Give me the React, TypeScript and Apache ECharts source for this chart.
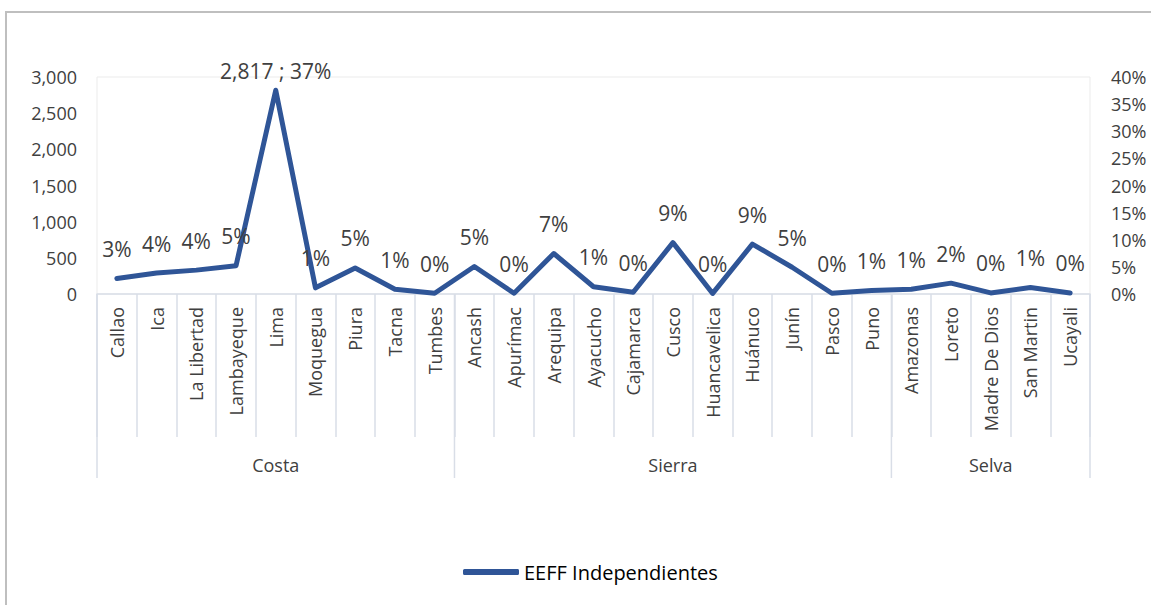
import { useEffect, useRef } from "react";
import * as echarts from "echarts";

const categories = [
  "Callao", "Ica", "La Libertad", "Lambayeque", "Lima", "Moquegua", "Piura", "Tacna", "Tumbes",
  "Ancash", "Apurímac", "Arequipa", "Ayacucho", "Cajamarca", "Cusco", "Huancavelica", "Huánuco", "Junín", "Pasco", "Puno",
  "Amazonas", "Loreto", "Madre De Dios", "San Martin", "Ucayali",
];
const values = [215, 290, 330, 390, 2817, 85, 360, 65, 10, 380, 10, 560, 100, 25, 710, 8, 690, 370, 10, 50, 65, 150, 15, 90, 15];
const shares = [3, 4, 4, 5, 37, 1, 5, 1, 0, 5, 0, 7, 1, 0, 9, 0, 9, 5, 0, 1, 1, 2, 0, 1, 0];
const groups = ["Costa", "Sierra", "Selva"];
const groupSizes = [9, 11, 5];
const seriesName = "EEFF Independientes";
const leftAxisMax = 3000;
const leftAxisStep = 500;
const rightAxisMax = 0.4;
const rightAxisStep = 0.05;

const FONT = "Open Sans";
const TEXT = "#404040";
const BLUE = "#2F5597";
const SEP = "#D9DEE7";

export default function App() {
  const ref = useRef<HTMLDivElement>(null);

  useEffect(() => {
    if (!ref.current) return;
    const chart = echarts.init(ref.current, undefined, { renderer: "svg" });
    const maxIdx = values.indexOf(Math.max(...values));
    const fmt = (v: number) => v.toLocaleString("en-US");

    chart.setOption({
      animation: false,
      backgroundColor: "#ffffff",
      textStyle: { fontFamily: FONT },
      grid: {
        left: 97, right: 61, top: 77, bottom: 311,
        show: true, borderColor: "#EBEBEB", borderWidth: 1,
      },
      legend: {
        left: 458, top: 557,
        icon: "roundRect",
        itemWidth: 56, itemHeight: 6,
        textStyle: { fontFamily: FONT, fontSize: 20, color: "#000000" },
        data: [seriesName],
      },
      xAxis: {
        type: "category",
        data: categories,
        boundaryGap: true,
        axisLine: { show: true, lineStyle: { color: SEP, width: 1.5 } },
        axisTick: { show: true, interval: 0, length: 143, lineStyle: { color: SEP, width: 1.5 } },
        axisLabel: { interval: 0, rotate: 90, margin: 13, fontSize: 18, color: TEXT, fontFamily: FONT },
        splitLine: { show: false },
      },
      yAxis: [
        {
          type: "value", min: 0, max: leftAxisMax, interval: leftAxisStep,
          axisLine: { show: false }, axisTick: { show: false }, splitLine: { show: false },
          axisLabel: { margin: 20, fontSize: 18, color: TEXT, fontFamily: FONT, formatter: (v: number) => fmt(v) },
        },
        {
          type: "value", min: 0, max: rightAxisMax, interval: rightAxisStep, position: "right",
          axisLine: { show: false }, axisTick: { show: false }, splitLine: { show: false },
          axisLabel: { margin: 21, fontSize: 18, color: TEXT, fontFamily: FONT, formatter: (v: number) => Math.round(v * 100) + "%" },
        },
      ],
      series: [
        {
          name: seriesName,
          type: "line",
          yAxisIndex: 0,
          symbol: "circle",
          symbolSize: 0,
          showSymbol: true,
          lineStyle: { color: BLUE, width: 5, cap: "round", join: "round" },
          itemStyle: { color: BLUE },
          data: values.map((v, i) => (i === maxIdx ? { value: v, label: { distance: 9 } } : v)),
          label: {
            show: true,
            position: "top",
            distance: 19,
            fontSize: 21,
            color: TEXT,
            fontFamily: FONT,
            formatter: (p: any) =>
              p.dataIndex === maxIdx ? `${fmt(values[p.dataIndex])} ; ${shares[p.dataIndex]}%` : `${shares[p.dataIndex]}%`,
          },
        },
      ],
    });

    const c0 = chart.convertToPixel({ xAxisIndex: 0 }, 0) as number;
    const c1 = chart.convertToPixel({ xAxisIndex: 0 }, 1) as number;
    const band = c1 - c0;
    const yBase = chart.convertToPixel({ yAxisIndex: 0 }, 0) as number;
    const elems: any[] = [
      {
        type: "polyline",
        shape: { points: [[6, 605], [6, 12], [1151, 12]] },
        style: { stroke: "#BFBFBF", lineWidth: 2, fill: null },
        silent: true,
      },
    ];
    let start = 0;
    const bounds = [0];
    groupSizes.forEach((s) => bounds.push(bounds[bounds.length - 1] + s));
    bounds.forEach((b) => {
      const x = c0 - band / 2 + b * band;
      elems.push({
        type: "line",
        shape: { x1: x, y1: yBase, x2: x, y2: yBase + 184 },
        style: { stroke: SEP, lineWidth: 1.5 },
        silent: true,
      });
    });
    groups.forEach((g, gi) => {
      const center = start + (groupSizes[gi] - 1) / 2;
      elems.push({
        type: "text",
        x: c0 + center * band,
        y: yBase + 171,
        style: { text: g, fontSize: 18, fontFamily: FONT, fill: TEXT, align: "center", verticalAlign: "middle" },
        silent: true,
      });
      start += groupSizes[gi];
    });
    chart.setOption({ graphic: elems });

    return () => chart.dispose();
  }, []);

  return (
    <div
      ref={ref}
      style={{ position: "absolute", left: 0, top: 0, width: 1151, height: 605, background: "#fff" }}
    />
  );
}
